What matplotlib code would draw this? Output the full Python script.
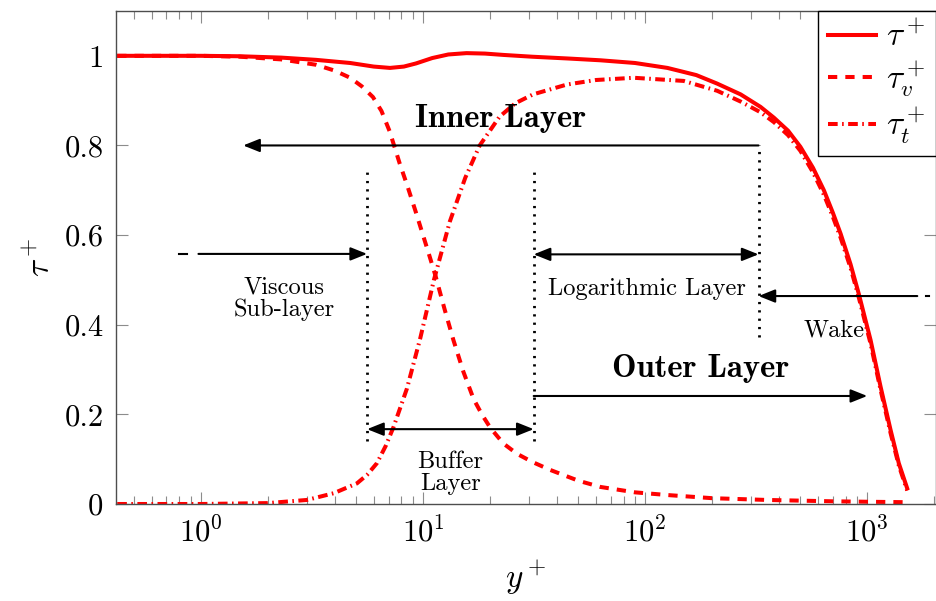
import matplotlib
matplotlib.use("Agg")
import matplotlib.pyplot as plt

plt.rcParams['font.family'] = 'cmr10'
plt.rcParams['mathtext.fontset'] = 'cm'
plt.rcParams['axes.formatter.use_mathtext'] = True

# total shear stress
yp_tau = [0.42, 0.6, 1.0, 1.5, 2.3, 3.3, 4.7, 6.0, 7.1, 8.2, 9.3, 11.0, 13.0, 15.7, 19, 23, 31, 45,
          63, 90, 126, 170, 211, 269, 331, 380, 440, 500, 570, 638, 700, 759, 841, 916, 1035, 1148,
          1274, 1387, 1513]
tau = [1.000, 1.000, 1.000, 0.999, 0.996, 0.991, 0.984, 0.976, 0.973, 0.976, 0.983, 0.995, 1.003, 1.006,
       1.005, 1.002, 0.998, 0.994, 0.990, 0.984, 0.973, 0.957, 0.938, 0.914, 0.886, 0.862, 0.833, 0.797,
       0.750, 0.700, 0.650, 0.603, 0.535, 0.469, 0.366, 0.262, 0.165, 0.091, 0.035]

# viscous part
yp_v = [0.42, 1.0, 1.5, 2.3, 3.3, 4.0, 4.7, 5.3, 5.95, 6.5, 7.07, 7.85, 8.5, 9.3, 10.7, 11.4, 12.5,
        13.7, 15.2, 16.9, 18.5, 20.1, 23, 26.5, 31, 37.4, 50, 63, 90, 126, 200, 355, 700, 1000, 1513]
tau_v = [1.000, 1.000, 0.998, 0.992, 0.980, 0.967, 0.951, 0.932, 0.908, 0.877, 0.832, 0.760, 0.710,
         0.650, 0.553, 0.508, 0.435, 0.366, 0.295, 0.234, 0.198, 0.170, 0.135, 0.112, 0.094, 0.076,
         0.052, 0.038, 0.026, 0.020, 0.013, 0.009, 0.006, 0.005, 0.004]

# turbulent part
yp_t = [0.42, 1.0, 2.0, 3.0, 3.96, 5.04, 5.6, 6.2, 6.8, 7.37, 8.47, 9.72, 11.2, 13.2, 15.5, 18.0, 22.1,
        26, 31.3, 44.5, 60, 88.9, 149, 211, 269, 331, 380, 440, 500, 570, 638, 700, 759, 841, 916,
        1035, 1148, 1274, 1387, 1513]
tau_t = [0.000, 0.000, 0.002, 0.009, 0.024, 0.046, 0.065, 0.091, 0.130, 0.172, 0.258, 0.370, 0.500,
         0.630, 0.728, 0.800, 0.864, 0.894, 0.914, 0.936, 0.946, 0.951, 0.944, 0.922, 0.898, 0.874,
         0.852, 0.823, 0.788, 0.740, 0.690, 0.641, 0.594, 0.527, 0.461, 0.358, 0.255, 0.158, 0.086,
         0.030]

yticks = [0, 0.2, 0.4, 0.6, 0.8, 1]
ytick_labels = ['0', '0.2', '0.4', '0.6', '0.8', '1']

fig = plt.figure(figsize=(9.36, 6.01), dpi=100)
ax = fig.add_axes([0.124, 0.1614, 0.8755, 0.8203])

red = '#ff0000'
ax.plot(yp_tau, tau, color=red, lw=2.9, label=r'$\tau^+$')
ax.plot(yp_v, tau_v, color=red, lw=2.9, ls=(0, (2.3, 2.0)), label=r'$\tau_v^+$')
ax.plot(yp_t, tau_t, color=red, lw=2.9, ls=(0, (2.4, 1.1, 0.4, 1.1)), label=r'$\tau_t^+$')

ax.set_xscale('log')
ax.set_xlim(0.415, 2030)
ax.set_ylim(0, 1.1)
ax.set_yticks(yticks)
ax.set_yticklabels(ytick_labels)

ax.tick_params(which='both', direction='in', top=True, right=True, color='0.55', width=0.8,
               labelsize=22, labelcolor='k')
ax.tick_params(which='major', length=8.5, pad=9)
ax.tick_params(which='minor', length=5.5)
for s in ax.spines.values():
    s.set_color('0.3')
    s.set_linewidth(1.0)

ax.set_xlabel(r'$y^+$', fontsize=24, labelpad=8)
ax.set_ylabel(r'$\tau^+$', fontsize=24, labelpad=6)

# region markers
dot = (0, (0.8, 2.2))
ax.plot([5.6, 5.6], [0.141, 0.745], color='k', lw=2.0, ls=dot)
ax.plot([31.5, 31.5], [0.141, 0.745], color='k', lw=2.0, ls=dot)
ax.plot([324, 324], [0.373, 0.8], color='k', lw=2.0, ls=dot)

one = dict(arrowstyle='-|>,head_length=0.5,head_width=0.2', mutation_scale=20, lw=1.5,
           color='k', shrinkA=0, shrinkB=0)
two = dict(arrowstyle='<|-|>,head_length=0.5,head_width=0.2', mutation_scale=20, lw=1.5,
           color='k', shrinkA=0, shrinkB=0)

# inner layer
ax.annotate('', xy=(1.55, 0.8), xytext=(324, 0.8), arrowprops=one)
ax.text(22.3, 0.861, 'Inner Layer', family='cmb10', fontsize=23.5, ha='center', va='center')

# viscous sub-layer
ax.plot([0.80, 0.87], [0.558, 0.558], color='k', lw=1.5)
ax.annotate('', xy=(5.6, 0.558), xytext=(0.975, 0.558), arrowprops=one)
ax.text(2.36, 0.459, 'Viscous\nSub-layer', fontsize=17.6, ha='center', va='center', linespacing=1.0)

# buffer layer
ax.annotate('', xy=(5.6, 0.167), xytext=(31.5, 0.167), arrowprops=two)
ax.text(13.3, 0.069, 'Buffer\nLayer', fontsize=17.6, ha='center', va='center', linespacing=1.0)

# log layer
ax.annotate('', xy=(31.5, 0.557), xytext=(324, 0.557), arrowprops=two)
ax.text(102, 0.48, 'Logarithmic Layer', fontsize=17.6, ha='center', va='center')

# wake
ax.plot([1832, 1891], [0.464, 0.464], color='k', lw=1.5)
ax.annotate('', xy=(324, 0.464), xytext=(1680, 0.464), arrowprops=one)
ax.text(707, 0.388, 'Wake', fontsize=17.6, ha='center', va='center')

# outer layer
ax.annotate('', xy=(1000, 0.241), xytext=(31.5, 0.241), arrowprops=one)
ax.text(177, 0.303, 'Outer Layer', family='cmb10', fontsize=23.5, ha='center', va='center')

leg = ax.legend(loc='upper right', fontsize=24, handlelength=1.45, borderaxespad=0, borderpad=0.3,
                labelspacing=0.2, handletextpad=0.3, fancybox=False, framealpha=1, edgecolor='k')
leg.get_frame().set_linewidth(1.0)

fig.savefig('out.png', dpi=100)
